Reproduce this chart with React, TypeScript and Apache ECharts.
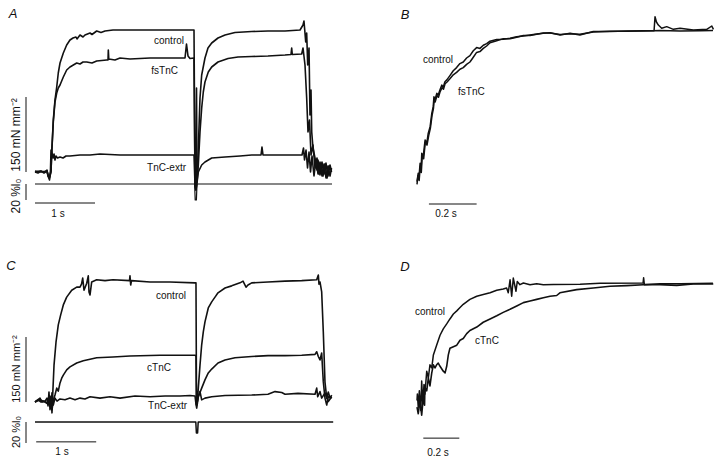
import React, { useEffect, useRef } from "react";
import * as echarts from "echarts";

// ---------- Panel A : force (mN mm^-2) vs time (s) ----------
const aControl: number[][] = [
  [0, 0], [0.083, 2], [0.167, 0], [0.2, 4], [0.217, -8], [0.242, -12], [0.267, 0], [0.278, 38],
  [0.305, 104], [0.333, 144], [0.362, 170], [0.388, 198], [0.417, 218], [0.472, 238], [0.528, 254],
  [0.583, 264], [0.633, 268], [0.683, 270], [0.7, 266], [0.75, 274], [0.8, 270], [0.833, 274],
  [0.917, 278], [0.95, 275], [1.028, 282], [1.1, 279],
  [1.167, 282], [1.3, 284], [1.583, 284], [1.917, 284], [2.25, 284], [2.65, 284], [2.667, -26],
  [2.683, -36], [2.7, -16], [2.722, 48], [2.75, 148], [2.778, 194], [2.833, 228], [2.883, 248],
  [2.945, 258], [3.05, 268], [3.167, 274], [3.333, 279], [3.612, 281], [3.883, 282], [4.167, 282],
  [4.417, 284], [4.467, 294], [4.483, 302], [4.512, 260], [4.528, 278], [4.545, 214], [4.567, 248],
  [4.583, 114], [4.6, 164], [4.612, 80], [4.633, 48], [4.667, 28], [4.7, 4], [4.717, 24], [4.75, -6],
  [4.783, 20], [4.817, -4], [4.85, 18], [4.883, -8], [4.917, 14], [4.942, 0],
];
const aFsTnC: number[][] = [
  [0, 2], [0.1, 0], [0.2, 2], [0.217, -6], [0.242, -10], [0.267, 2], [0.278, 36], [0.305, 100],
  [0.333, 140], [0.362, 158], [0.388, 168], [0.417, 174], [0.472, 190], [0.528, 204], [0.583, 210],
  [0.695, 218], [0.75, 216], [0.8, 220], [0.862, 220], [0.95, 218], [1.028, 222], [1.195, 224],
  [1.217, 224], [1.222, 244],
  [1.23, 226], [1.333, 224], [1.417, 228], [1.583, 226], [1.917, 228], [2.25, 228], [2.5, 228],
  [2.525, 256], [2.55, 232], [2.583, 227], [2.65, 228], [2.667, -26], [2.683, -32], [2.692, 168],
  [2.7, -20], [2.722, 14], [2.75, 80], [2.778, 128], [2.805, 160], [2.833, 180], [2.888, 200],
  [2.945, 210], [3.05, 220], [3.217, 227], [3.383, 230], [3.612, 231], [3.883, 232], [4.167, 234],
  [4.267, 235], [4.278, 248], [4.288, 235], [4.445, 236], [4.467, 248], [4.5, 214], [4.528, 148],
  [4.55, 80], [4.575, 104], [4.6, 34], [4.633, 54], [4.667, 8], [4.7, 28], [4.733, -4], [4.767, 18],
  [4.8, -8], [4.833, 16], [4.867, -12], [4.9, 12], [4.942, 4],
];
const aTnCExtr: number[][] = [
  [0, 0], [0.05, -2], [0.1, 2], [0.15, -2], [0.2, 2], [0.217, -8], [0.242, -16], [0.258, 4],
  [0.267, 44], [0.283, 38], [0.3, 28], [0.317, 36], [0.333, 24], [0.35, 32], [0.375, 28], [0.417, 30],
  [0.467, 28], [0.517, 32], [0.583, 32], [0.667, 33], [0.75, 34], [0.917, 34], [1.083, 36],
  [1.417, 34], [1.917, 34], [2.65, 34], [2.667, -26], [2.683, -36], [2.7, -22], [2.722, 0],
  [2.778, 14], [2.833, 20], [2.945, 28], [3.167, 30], [3.417, 32], [3.612, 34], [3.767, 34],
  [3.783, 50], [3.8, 34], [4.167, 34], [4.45, 34], [4.475, 48], [4.492, 24], [4.517, 44], [4.542, 8],
  [4.567, 40], [4.592, 0], [4.617, 32], [4.65, -8], [4.683, 24], [4.717, -4], [4.75, 20], [4.783, -8],
  [4.817, 16], [4.85, -12], [4.883, 12], [4.917, -8], [4.942, 8],
];
// muscle length (% l0)
const aLength: number[][] = [
  [0, 0], [2.66, 0], [2.67, -20], [2.69, -20], [2.7, 0], [4.95, 0],
];

// ---------- Panel B : normalised force (%) vs time (s) ----------
const bControl: number[][] = [
  [0.0, 5.2], [0.005, 10.4], [0.008, 7.5], [0.013, 16.7], [0.017, 12.5], [0.02, 22.9], [0.026, 20.8],
  [0.034, 31.3], [0.041, 29.2], [0.047, 35.4], [0.055, 39.6], [0.062, 47.9], [0.068, 52.1],
  [0.071, 58.3], [0.075, 56.3], [0.083, 60.4], [0.089, 59.4], [0.096, 62.5], [0.104, 65.6],
  [0.11, 64.2], [0.117, 67.7], [0.125, 68.8], [0.138, 71.5], [0.152, 74.5], [0.166, 76.5],
  [0.18, 79], [0.194, 80], [0.208, 82.5], [0.222, 84], [0.236, 87], [0.25, 89], [0.264, 88.5],
  [0.278, 90.5], [0.292, 91.5], [0.306, 93], [0.334, 94], [0.362, 94.2], [0.39, 94.8], [0.418, 95.8],
  [0.446, 96.3], [0.474, 96.9], [0.502, 97.5], [0.53, 97.9], [0.558, 98.3], [0.6, 96.9], [0.642, 97.9],
  [0.683, 96.9], [0.739, 99.0], [0.809, 99.0], [0.879, 99.4], [0.949, 99.6], [0.988, 99.6],
  [1.019, 99.7], [1.103, 99.4], [1.187, 99.6], [1.241, 99.7],
];
const bFsTnC: number[][] = [
  [0.0, 3.5], [0.004, 9], [0.009, 6], [0.014, 15], [0.018, 11], [0.022, 21], [0.028, 19.5],
  [0.035, 30], [0.042, 28], [0.049, 34], [0.056, 38.5], [0.063, 46.5], [0.069, 51], [0.072, 56.5],
  [0.076, 55], [0.084, 59], [0.09, 58], [0.097, 61.5], [0.105, 64], [0.111, 63], [0.118, 66.5],
  [0.126, 67.5], [0.138, 69.5], [0.152, 72], [0.166, 73.5], [0.18, 75.5], [0.194, 76.5], [0.208, 78.5],
  [0.222, 80], [0.236, 83], [0.25, 86], [0.264, 86.5], [0.278, 88.5], [0.292, 90], [0.306, 92],
  [0.334, 93.3], [0.362, 94.6], [0.39, 94.5], [0.418, 95.5], [0.446, 96.5], [0.474, 96.6],
  [0.502, 97.3], [0.53, 98.1], [0.558, 98.1], [0.6, 97.2], [0.642, 97.6], [0.683, 97.3], [0.739, 98.8],
  [0.809, 99.2], [0.879, 99.2], [0.949, 99.4], [0.994, 99.6], [0.998, 108.3], [1.004, 105],
  [1.012, 103.1], [1.026, 101.1], [1.047, 102.1], [1.075, 100.4], [1.103, 101.1], [1.159, 100],
  [1.215, 100.4], [1.236, 102.5], [1.243, 100.4],
];

// ---------- Panel C : force (mN mm^-2) vs time (s) ----------
const cControl: number[][] = [
  [0, 0], [0.083, 9], [0.117, 0], [0.167, 2], [0.2, 9], [0.217, -9], [0.233, 23], [0.25, -18],
  [0.267, 14], [0.283, -25], [0.295, 16], [0.317, 85], [0.35, 138], [0.388, 178], [0.428, 201],
  [0.472, 224], [0.528, 242], [0.612, 258], [0.695, 265], [0.75, 265], [0.775, 272], [0.795, 286],
  [0.817, 258], [0.862, 274], [0.888, 291], [0.9, 254], [0.917, 247], [0.945, 277], [1.028, 282],
  [1.167, 280], [1.3, 282], [1.575, 280], [1.583, 291], [1.595, 270], [1.608, 280], [1.917, 277],
  [2.25, 277], [2.667, 275], [2.683, 275], [2.692, -7], [2.705, 0], [2.722, 32], [2.75, 85],
  [2.778, 132], [2.805, 162], [2.833, 185], [2.888, 217], [2.945, 231], [3.0, 242], [3.05, 252],
  [3.167, 263], [3.278, 268], [3.417, 275], [3.467, 279], [3.517, 265], [3.55, 270], [3.612, 275],
  [3.883, 277], [4.167, 279], [4.445, 280], [4.695, 282], [4.722, 293], [4.733, 272], [4.75, 277],
  [4.778, 254], [4.805, 162], [4.833, 46], [4.862, 9], [4.888, 23], [4.917, 9], [4.945, 16],
];
const cCTnC: number[][] = [
  [0, 0], [0.083, 5], [0.167, 0], [0.217, -5], [0.25, 9], [0.283, -18], [0.308, 5], [0.333, 16],
  [0.362, 32], [0.388, 25], [0.417, 44], [0.445, 55], [0.472, 62], [0.528, 74], [0.583, 81],
  [0.695, 90], [0.805, 95], [1.028, 102], [1.3, 104], [1.583, 106], [2.083, 108], [2.667, 108],
  [2.683, 106], [2.692, -7], [2.7, -7], [2.722, 12], [2.778, 32], [2.833, 51], [2.888, 67],
  [2.945, 76], [3.05, 90], [3.167, 97], [3.333, 102], [3.612, 105], [3.883, 107], [4.167, 107],
  [4.445, 108], [4.667, 110], [4.695, 116], [4.722, 105], [4.75, 97], [4.778, 113], [4.805, 47],
  [4.833, 9], [4.862, -7], [4.888, 12], [4.945, 9],
];
const cTnCExtr: number[][] = [
  [0, 0], [0.05, 5], [0.1, 0], [0.15, 2], [0.2, -2], [0.233, 7], [0.25, 12], [0.267, -14],
  [0.283, 21], [0.305, -7], [0.333, 9], [0.367, 2], [0.417, 7], [0.5, 5], [0.583, 9], [0.667, 5],
  [0.75, 9], [0.833, 7], [0.917, 12], [1.083, 9], [1.25, 12], [1.417, 9], [1.667, 14], [1.917, 12],
  [2.167, 14], [2.417, 14], [2.583, 15], [2.667, 14], [2.683, -5], [2.695, -14], [2.722, 12],
  [2.75, 24], [2.778, 5], [2.833, 9], [2.945, 12], [3.167, 15], [3.612, 16], [3.883, 18], [4.0, 24],
  [4.112, 22], [4.167, 18], [4.383, 20], [4.667, 18], [4.695, 32], [4.712, 12], [4.75, 24],
  [4.778, 9], [4.833, 21], [4.888, 1], [4.945, 12],
];
const cLength: number[][] = [
  [0, 0], [2.68, 0], [2.69, -10.5], [2.71, -10.5], [2.72, 0], [4.97, 0],
];

// ---------- Panel D : normalised force (%) vs time (s) ----------
const dControl: number[][] = [
  [0.0, 14.8], [0.002, 19.5], [0.007, 10], [0.013, 21.9], [0.021, 7.6], [0.026, 29.1], [0.032, 12.4],
  [0.039, 26.6], [0.044, 19.5], [0.054, 36.2], [0.063, 31.4], [0.072, 40.9], [0.082, 38.6],
  [0.091, 48.1], [0.109, 55.2], [0.128, 62.4], [0.146, 67.1], [0.165, 70.7], [0.183, 74.3],
  [0.202, 77.9], [0.221, 80.2], [0.239, 82.6], [0.257, 85], [0.294, 88.6], [0.332, 90.9],
  [0.368, 92.1], [0.406, 93.4], [0.443, 95.2], [0.479, 96.2], [0.498, 96.9], [0.507, 93.4],
  [0.517, 102.9], [0.526, 90.9], [0.535, 104.1], [0.55, 94.5], [0.557, 101.6], [0.572, 99.3],
  [0.591, 100.5], [0.628, 99.3], [0.665, 100], [0.702, 99.3], [0.757, 99.5], [0.906, 99.6],
  [1.017, 100.4], [1.256, 100.5], [1.259, 104.3], [1.263, 99.3], [1.35, 100], [1.461, 100],
  [1.644, 100.4],
];
const dCTnC: number[][] = [
  [0.0, 10], [0.007, 5.2], [0.017, 14.8], [0.026, 4.1], [0.035, 17.1], [0.042, 11.4], [0.044, 24.3],
  [0.054, 21.9], [0.063, 31.4], [0.072, 25.5], [0.082, 35], [0.091, 40.9], [0.1, 38.6], [0.109, 40.9],
  [0.118, 42.1], [0.128, 39.8], [0.146, 36.2], [0.156, 35], [0.165, 39.8], [0.174, 48.1],
  [0.183, 52.9], [0.202, 54.1], [0.221, 55.2], [0.239, 58.8], [0.257, 60], [0.276, 63.6],
  [0.294, 65.9], [0.332, 68.4], [0.368, 71.9], [0.406, 74.3], [0.443, 76.6], [0.479, 79.1],
  [0.517, 81.4], [0.554, 83.8], [0.591, 86.2], [0.628, 87.4], [0.665, 88.6], [0.702, 89.8],
  [0.739, 90.9], [0.776, 91.4], [0.794, 93.4], [0.887, 95.7], [0.979, 96.9], [1.072, 98.1],
  [1.165, 98.6], [1.257, 99.3], [1.35, 99.3], [1.443, 98.8], [1.535, 99.8], [1.646, 99.8],
];

// scale bars (data units)
const forceBar = 150; // mN mm^-2
const lengthBar = 20; // % l0
const timeBarLeft = 1; // s
const timeBarRight = 0.2; // s

// ---------- layout (pixels) ----------
type Layout = {
  x0: number; y0: number; pxX: number; pxY: number;
  xMin: number; xMax: number; yMin: number; yMax: number;
  lenY0?: number; pxLen?: number;
};
const layA: Layout = { x0: 35, y0: 172, pxX: 60, pxY: 0.5, xMin: -0.5, xMax: 5.05, yMin: -80, yMax: 320, lenY0: 184, pxLen: 0.8 };
const layB: Layout = { x0: 417, y0: 190, pxX: 238.5, pxY: 1.6, xMin: -0.1, xMax: 1.26, yMin: -20, yMax: 110 };
const layC: Layout = { x0: 35, y0: 402, pxX: 60, pxY: 65 / 150, xMin: -0.5, xMax: 5.05, yMin: -120, yMax: 360, lenY0: 422, pxLen: 1.05 };
const layD: Layout = { x0: 417, y0: 424, pxX: 180, pxY: 1.4, xMin: -0.1, xMax: 1.66, yMin: -30, yMax: 110 };

function gridOf(l: Layout) {
  const left = l.x0 + l.xMin * l.pxX;
  const top = l.y0 - l.yMax * l.pxY;
  return {
    left, top,
    width: (l.xMax - l.xMin) * l.pxX,
    height: (l.yMax - l.yMin) * l.pxY,
  };
}
function lenRange(l: Layout) {
  const g = gridOf(l);
  return {
    min: (l.lenY0! - (g.top + g.height)) / l.pxLen!,
    max: (l.lenY0! - g.top) / l.pxLen!,
  };
}

const FONT = "Liberation Sans, Arial, Helvetica, sans-serif";
const INK = "#111";

export default function App() {
  const ref = useRef<HTMLDivElement>(null);
  useEffect(() => {
    if (!ref.current) return;
    const chart = echarts.init(ref.current, undefined, { renderer: "svg" });
    const lays = [layA, layB, layC, layD];
    const grids = lays.map((l) => ({ ...gridOf(l), containLabel: false }));
    const xAxes = lays.map((l, i) => ({
      type: "value", gridIndex: i, min: l.xMin, max: l.xMax, show: false,
    }));
    const lA = lenRange(layA);
    const lC = lenRange(layC);
    const yAxes = [
      { type: "value", gridIndex: 0, min: layA.yMin, max: layA.yMax, show: false },
      { type: "value", gridIndex: 0, min: lA.min, max: lA.max, show: false, position: "right" },
      { type: "value", gridIndex: 1, min: layB.yMin, max: layB.yMax, show: false },
      { type: "value", gridIndex: 2, min: layC.yMin, max: layC.yMax, show: false },
      { type: "value", gridIndex: 2, min: lC.min, max: lC.max, show: false, position: "right" },
      { type: "value", gridIndex: 3, min: layD.yMin, max: layD.yMax, show: false },
    ];
    const trace = (data: number[][], xi: number, yi: number, w = 1.6, color = INK) => ({
      type: "line", data, xAxisIndex: xi, yAxisIndex: yi, showSymbol: false, symbol: "none",
      clip: false, silent: true, lineStyle: { color, width: w, join: "round" }, z: 2,
    });
    const series = [
      trace(aControl, 0, 0), trace(aFsTnC, 0, 0), trace(aTnCExtr, 0, 0), trace(aLength, 0, 1, 1.2),
      trace(bControl, 1, 2, 1.5), trace(bFsTnC, 1, 2, 1.5),
      trace(cControl, 2, 3), trace(cCTnC, 2, 3), trace(cTnCExtr, 2, 3), trace(cLength, 2, 4, 1.5),
      trace(dControl, 3, 5, 1.5), trace(dCTnC, 3, 5, 1.6),
      // scale bars
      trace([[-0.15, 0], [-0.15, forceBar]], 0, 0, 1),
      trace([[-0.15, 0], [-0.15, -lengthBar]], 0, 1, 1),
      trace([[0, -62], [timeBarLeft, -62]], 0, 0, 1),
      trace([[0.05, -8.75], [0.05 + timeBarRight, -8.75]], 1, 2, 1),
      trace([[-0.15, 0], [-0.15, forceBar]], 2, 3, 1),
      trace([[-0.15, 0], [-0.15, -lengthBar]], 2, 4, 1),
      trace([[0.02, -92], [0.02 + timeBarLeft, -92]], 2, 3, 1),
      trace([[0.035, -12.6], [0.035 + timeBarRight, -12.6]], 3, 5, 1),
    ];
    const txt = (text: string, x: number, y: number, opts: any = {}) => ({
      type: "text", x, y, rotation: opts.rot || 0, silent: true,
      style: {
        text, fill: INK, fontFamily: FONT, fontSize: opts.size || 10,
        fontStyle: opts.italic ? "italic" : "normal",
        align: opts.align || "center", verticalAlign: "middle",
      },
    });
    const graphic = [
      txt("A", 13, 13, { size: 13, italic: true }),
      txt("B", 405, 14, { size: 13, italic: true }),
      txt("C", 11, 265, { size: 13, italic: true }),
      txt("D", 405, 266, { size: 13, italic: true }),
      txt("control", 184, 40, { align: "right" }),
      txt("fsTnC", 178, 70, { align: "right" }),
      txt("TnC-extr", 186, 167, { align: "right" }),
      txt("control", 423, 59, { align: "left" }),
      txt("fsTnC", 458, 91, { align: "left" }),
      txt("control", 186, 295, { align: "right" }),
      txt("cTnC", 171, 367, { align: "right" }),
      txt("TnC-extr", 187, 405, { align: "right" }),
      txt("control", 415, 311, { align: "left" }),
      txt("cTnC", 475, 340, { align: "left" }),
      txt("1 s", 58, 213),
      txt("1 s", 62, 451),
      txt("0.2 s", 446, 213),
      txt("0.2 s", 438, 452),
      txt("150 mN mm\u207B\u00B2", 16, 135, { rot: Math.PI / 2, size: 12 }),
      txt("20 %l\u2080", 16, 196, { rot: Math.PI / 2, size: 12 }),
      txt("150 mN mm\u207B\u00B2", 16, 369, { rot: Math.PI / 2, size: 11 }),
      txt("20 %l\u2080", 16, 432, { rot: Math.PI / 2, size: 11 }),
    ];
    chart.setOption({
      animation: false,
      backgroundColor: "#ffffff",
      grid: grids,
      xAxis: xAxes,
      yAxis: yAxes,
      series,
      graphic,
    } as any);
    return () => chart.dispose();
  }, []);
  return (
    <div
      ref={ref}
      style={{ position: "fixed", left: 0, top: 0, width: 720, height: 462, background: "#fff" }}
    />
  );
}
